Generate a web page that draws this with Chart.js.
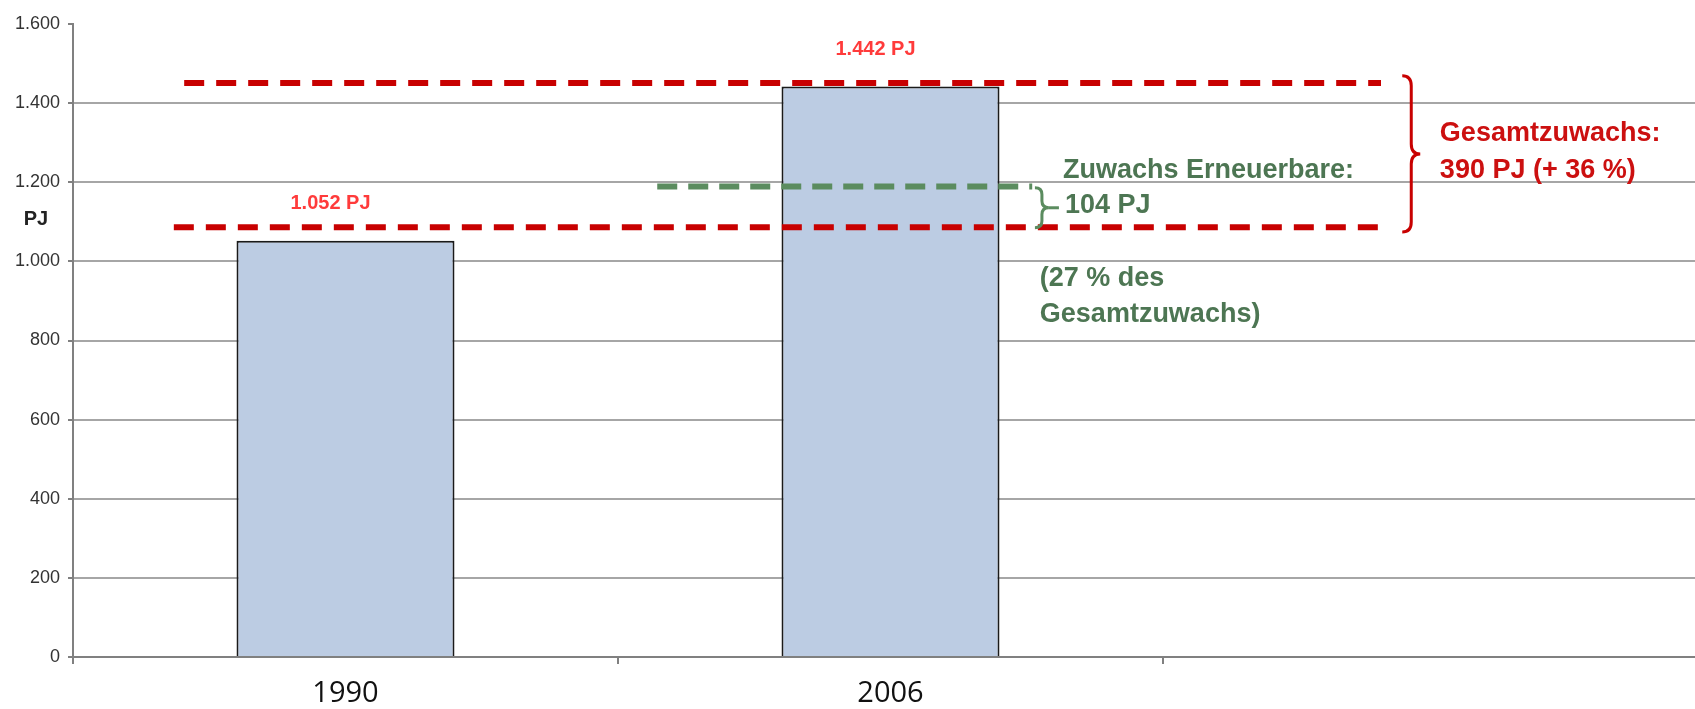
<!DOCTYPE html>
<html>
<head>
<meta charset="utf-8">
<script src="https://cdn.jsdelivr.net/npm/chart.js@4"></script>
<style>
  html, body { margin: 0; padding: 0; background: #fff; overflow: hidden; }
  #wrap { width: 1695px; height: 709px; overflow: hidden; }
</style>
</head>
<body>
<div id="wrap"><canvas id="chart" width="1708" height="709"></canvas></div>
<script>
// --- data ---
const categories = ['1990', '2006', ''];
const energyUse = [1052, 1442, null];
const yTickValues = [0, 200, 400, 600, 800, 1000, 1200, 1400, 1600];

// reference levels (PJ)
const totalLevels = [1451, 1086];   // red dashed lines
const renewableLevel = [1189];      // green dashed line
const growthText = ['Gesamtzuwachs:', '390 PJ (+ 36 %)'];
const renewableText = ['Zuwachs Erneuerbare:', '104 PJ'];
const shareText = ['(27 % des', 'Gesamtzuwachs)'];

const fmt = v => String(v).replace(/\B(?=(\d{3})+(?!\d))/g, '.');

function brace(ctx, x, top, bottom, w) {
    const mid = (top + bottom) / 2, r = Math.min(10, (bottom - top) / 6);
    ctx.beginPath();
    ctx.moveTo(x, top);
    ctx.quadraticCurveTo(x + w / 2, top, x + w / 2, top + r);
    ctx.lineTo(x + w / 2, mid - r);
    ctx.quadraticCurveTo(x + w / 2, mid, x + w, mid);
    ctx.quadraticCurveTo(x + w / 2, mid, x + w / 2, mid + r);
    ctx.lineTo(x + w / 2, bottom - r);
    ctx.quadraticCurveTo(x + w / 2, bottom, x, bottom);
    ctx.stroke();
}

const annotations = {
    id: 'annotations',
    afterDatasetsDraw(chart) {
        const { ctx, scales: { x, y }, chartArea } = chart;
        ctx.save();

        // dashed lines
        ctx.lineCap = 'butt';
        ctx.lineWidth = 6;
        ctx.strokeStyle = '#c80000';
        ctx.setLineDash([20, 12]);
        [[totalLevels[0], -0.296], [totalLevels[1], -0.315]].forEach(([v, from]) => {
            ctx.beginPath();
            ctx.moveTo(x.getPixelForValue(from), y.getPixelForValue(v));
            ctx.lineTo(x.getPixelForValue(1.9), y.getPixelForValue(v));
            ctx.stroke();
        });
        ctx.strokeStyle = '#5b8c5f';
        ctx.setLineDash([20, 11]);
        ctx.beginPath();
        ctx.moveTo(x.getPixelForValue(0.572), y.getPixelForValue(renewableLevel[0]));
        ctx.lineTo(x.getPixelForValue(1.26), y.getPixelForValue(renewableLevel[0]));
        ctx.stroke();
        ctx.setLineDash([]);

        // braces
        ctx.lineWidth = 3;
        ctx.strokeStyle = '#c80000';
        brace(ctx, x.getPixelForValue(1.939), y.getPixelForValue(1469), y.getPixelForValue(1074), 18);
        ctx.strokeStyle = '#5b8c5f';
        brace(ctx, x.getPixelForValue(1.265), y.getPixelForValue(1186), y.getPixelForValue(1085), 14);
        ctx.beginPath();
        const tipY = y.getPixelForValue((1186 + 1085) / 2);
        ctx.moveTo(x.getPixelForValue(1.265) + 14, tipY);
        ctx.lineTo(x.getPixelForValue(1.265) + 24, tipY);
        ctx.stroke();

        // value labels above bars
        ctx.font = 'bold 20px "Liberation Sans", Arial, sans-serif';
        ctx.fillStyle = '#ff3b3b';
        ctx.textAlign = 'center';
        ctx.textBaseline = 'middle';
        energyUse.forEach((v, i) => {
            if (v == null) return;
            ctx.fillText(fmt(v) + ' PJ', x.getPixelForValue(i) - 15, y.getPixelForValue(v) - 37);
        });

        // text blocks
        ctx.textAlign = 'left';
        ctx.font = 'bold 27px "Liberation Sans", Arial, sans-serif';
        ctx.fillStyle = '#4d7653';
        ctx.fillText(renewableText[0], x.getPixelForValue(1.3165), y.getPixelForValue(1230));
        ctx.fillText(renewableText[1], x.getPixelForValue(1.32), y.getPixelForValue(1140));
        ctx.fillText(shareText[0], x.getPixelForValue(1.274), y.getPixelForValue(957));
        ctx.fillText(shareText[1], x.getPixelForValue(1.274), y.getPixelForValue(866));
        ctx.fillStyle = '#cc1010';
        ctx.fillText(growthText[0], x.getPixelForValue(2.008), y.getPixelForValue(1323));
        ctx.fillText(growthText[1], x.getPixelForValue(2.008), y.getPixelForValue(1229));

        // unit label
        ctx.textAlign = 'center';
        ctx.font = 'bold 20px "Liberation Sans", Arial, sans-serif';
        ctx.fillStyle = '#222';
        ctx.fillText('PJ', chartArea.left - 37, y.getPixelForValue(1105));

        ctx.restore();
    }
};

const ctx = document.getElementById('chart').getContext('2d');
new Chart(ctx, {
    type: 'bar',
    data: {
        labels: categories,
        datasets: [{
            data: energyUse,
            backgroundColor: '#bccce3',
            borderColor: '#1a1a1a',
            borderWidth: 2,
            categoryPercentage: 1,
            barPercentage: 0.4,
        }],
    },
    options: {
        responsive: false,
        animation: false,
        devicePixelRatio: 1,
        layout: { padding: { top: 24, left: 0, right: 0, bottom: 0 } },
        plugins: { legend: { display: false }, tooltip: { enabled: false } },
        scales: {
            x: {
                offset: true,
                grid: { offset: true, drawOnChartArea: false, drawTicks: true, tickLength: 7, color: '#808080', lineWidth: 2 },
                border: { color: '#808080', width: 2 },
                ticks: { color: '#111', padding: 12, font: { family: '"Open Sans", sans-serif', size: 29 } },
                afterFit: s => { s.height = 52; },
            },
            y: {
                min: 0,
                max: 1600,
                afterBuildTicks: s => { s.ticks = yTickValues.map(v => ({ value: v })); },
                grid: {
                    color: c => (c.tick && c.tick.value === 1600 ? 'rgba(0,0,0,0)' : '#a6a6a6'),
                    tickColor: '#808080',
                    lineWidth: 2,
                    tickLength: 5,
                },
                border: { color: '#808080', width: 2 },
                ticks: {
                    color: '#333',
                    padding: 8,
                    font: { family: '"Liberation Sans", Arial, sans-serif', size: 18 },
                    callback: v => fmt(v),
                },
                afterFit: s => { s.width = 73; },
            },
        },
    },
    plugins: [annotations],
});
</script>
</body>
</html>
